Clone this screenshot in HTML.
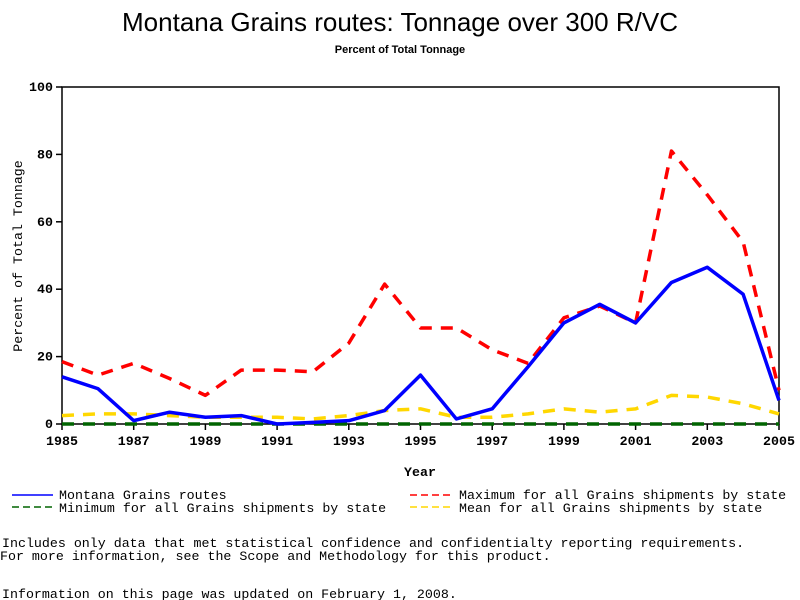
<!DOCTYPE html>
<html><head><meta charset="utf-8"><style>
body{margin:0;background:#fff;width:800px;height:600px;overflow:hidden}
svg{display:block}
.m{font-family:"Liberation Mono",monospace;font-size:13.3px}
</style></head><body>
<svg id="c" width="800" height="600" xmlns="http://www.w3.org/2000/svg">
<text x="400" y="31" text-anchor="middle" font-family="Liberation Sans,sans-serif" font-size="26">Montana Grains routes: Tonnage over 300 R/VC</text>
<text x="400" y="53" text-anchor="middle" font-family="Liberation Sans,sans-serif" font-size="11" font-weight="bold">Percent of Total Tonnage</text>
<g id="plot"></g>
<text x="420" y="476" text-anchor="middle" class="m" font-weight="bold" font-size="12">Year</text>
<text transform="translate(22,256) rotate(-90)" text-anchor="middle" class="m" font-size="11">Percent of Total Tonnage</text>
<g>
<line x1="12" y1="495" x2="53" y2="495" stroke="#0000ff" stroke-width="1.5"/>
<text x="59" y="499" class="m">Montana Grains routes</text>
<line x1="12" y1="507" x2="53" y2="507" stroke="#006400" stroke-width="1.5" stroke-dasharray="7,4"/>
<text x="59" y="512" class="m">Minimum for all Grains shipments by state</text>
<line x1="410" y1="495" x2="451" y2="495" stroke="#ff0000" stroke-width="1.5" stroke-dasharray="7,4"/>
<text x="459" y="499" class="m">Maximum for all Grains shipments by state</text>
<line x1="410" y1="507" x2="451" y2="507" stroke="#ffd700" stroke-width="1.5" stroke-dasharray="7,4"/>
<text x="459" y="512" class="m">Mean for all Grains shipments by state</text>
</g>
<text x="2" y="547" class="m">Includes only data that met statistical confidence and confidentialty reporting requirements.</text>
<text x="0" y="560" class="m">For more information, see the Scope and Methodology for this product.</text>
<text x="2" y="598" class="m">Information on this page was updated on February 1, 2008.</text>
</svg>
<script>
const years=[1985,1986,1987,1988,1989,1990,1991,1992,1993,1994,1995,1996,1997,1998,1999,2000,2001,2002,2003,2004,2005];
const montana=[14,10.5,1,3.5,2,2.5,0,0.5,1,4,14.5,1.5,4.5,17,30,35.5,30,42,46.5,38.5,7];
const maximum=[18.5,14.5,18,13.5,8.5,16,16,15.5,24,41.5,28.5,28.5,22,18,31.5,35,30,81,68,54,10];
const mean=[2.5,3,3,2.5,2,2,2,1.5,2.5,4,4.5,2,2,3,4.5,3.5,4.5,8.5,8,6,3];
const minimum=[0,0,0,0,0,0,0,0,0,0,0,0,0,0,0,0,0,0,0,0,0];
const yTicks=[0,20,40,60,80,100];
const xTicks=[1985,1987,1989,1991,1993,1995,1997,1999,2001,2003,2005];
const X0=62,X1=779,Y0=424,Y1=87;
const xs=v=>X0+(v-1985)/(2005-1985)*(X1-X0);
const ys=v=>Y0-v/100*(Y0-Y1);
const NS="http://www.w3.org/2000/svg",g=document.getElementById('plot');
function mk(t,a){const e=document.createElementNS(NS,t);for(const k in a)e.setAttribute(k,a[k]);g.appendChild(e);return e;}
const frame=mk('rect',{x:X0,y:Y1,width:X1-X0,height:Y0-Y1,fill:'none',stroke:'#000','stroke-width':1.5});


yTicks.forEach(v=>{
 const l=mk('line',{x1:X0-6,x2:X0,y1:ys(v),y2:ys(v),stroke:'#000','stroke-width':1.5});
 
 
 const t=mk('text',{x:X0-9,y:ys(v)+4,'text-anchor':'end','class':'m','font-size':12,'font-weight':'bold'});t.textContent=v;
 
 
});
xTicks.forEach(v=>{
 const l=mk('line',{x1:xs(v),x2:xs(v),y1:Y0,y2:Y0+6,stroke:'#000','stroke-width':1.5});
 
 
 const t=mk('text',{x:xs(v),y:Y0+21,'text-anchor':'middle','class':'m','font-size':12,'font-weight':'bold'});t.textContent=v;
 
 
});
function series(d,col,dash,name){
 const p=mk('polyline',{points:d.map((v,i)=>xs(years[i])+','+ys(v)).join(' '),fill:'none',stroke:col,'stroke-width':3.5,'stroke-linejoin':'round'});
 if(dash)p.setAttribute('stroke-dasharray',dash);
 
 
}
series(minimum,'#006400','12,9','series-minimum');
series(mean,'#ffd700','12,9','series-mean');
series(maximum,'#ff0000','12,9','series-maximum');
series(montana,'#0000ff',null,'series-montana');
</script>
</body></html>
